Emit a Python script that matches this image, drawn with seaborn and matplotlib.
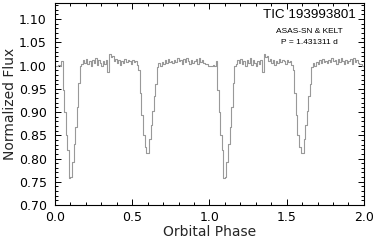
import numpy as np
import pandas as pd
import seaborn as sns
import matplotlib
matplotlib.use("Agg")
import matplotlib.pyplot as plt
from matplotlib.ticker import MultipleLocator, FormatStrFormatter

# Phase-folded, binned light curve (bin width 0.01 in phase), one cycle
bin_start = [round(0.01 * i, 2) for i in range(100)]
flux = [
    1.000, 1.000, 1.002, 1.000, 1.010, 0.948, 0.900, 0.850, 0.818, 0.758,
    0.760, 0.792, 0.832, 0.868, 0.910, 0.962, 1.000, 1.003, 1.012, 1.006,
    1.014, 1.004, 1.010, 1.000, 1.012, 1.005, 1.016, 1.002, 1.013, 1.006,
    1.000, 1.010, 1.004, 1.012, 0.986, 1.026, 1.018, 1.020, 1.010, 1.014,
    1.006, 1.012, 1.002, 1.010, 1.005, 1.014, 1.008, 1.012, 1.010, 1.004,
    1.012, 1.008, 1.010, 1.002, 0.990, 0.940, 0.893, 0.850, 0.825, 0.812,
    0.812, 0.842, 0.872, 0.902, 0.935, 0.960, 0.998, 1.005, 1.000, 1.008,
    1.004, 1.012, 1.006, 1.014, 1.008, 1.010, 1.006, 1.013, 1.008, 1.016,
    1.010, 1.012, 1.004, 1.014, 1.008, 1.016, 1.010, 1.004, 1.012, 1.006,
    1.010, 1.014, 1.004, 1.016, 1.008, 1.012, 1.006, 1.003, 1.004, 1.000,
]
title_text = "TIC 193993801"
source_text = "ASAS-SN & KELT"
period_text = "P = 1.431311 d"

# Plot two cycles (phase 0-2), closing the last step at phase 2.0
phase = list(bin_start) + [p + 1 for p in bin_start] + [2.0]
values = list(flux) + list(flux) + [flux[-1]]
df = pd.DataFrame({"phase": phase, "flux": values})

sns.set_style("ticks")
plt.rcParams["font.family"] = ["DejaVu Sans"]

fig = plt.figure(figsize=(3.74, 2.40), dpi=100)
ax = fig.add_axes([0.147, 0.146, 0.826, 0.842])

sns.lineplot(data=df, x="phase", y="flux", ax=ax, estimator=None, sort=False,
             drawstyle="steps-post", color="#999999", linewidth=0.8)

ax.set_xlim(0.0, 2.0)
ax.set_ylim(0.70, 1.135)
ax.xaxis.set_major_locator(MultipleLocator(0.5))
ax.xaxis.set_minor_locator(MultipleLocator(0.1))
ax.yaxis.set_major_locator(MultipleLocator(0.05))
ax.yaxis.set_minor_locator(MultipleLocator(0.01))
ax.xaxis.set_major_formatter(FormatStrFormatter("%.1f"))
ax.yaxis.set_major_formatter(FormatStrFormatter("%.2f"))
ax.tick_params(which="both", direction="in", top=True, right=True,
               width=0.7, colors="black", labelsize=9)
ax.tick_params(axis="x", which="major", pad=4)
ax.tick_params(axis="y", which="major", pad=6)
ax.tick_params(which="major", length=4)
ax.tick_params(which="minor", length=2)
for s in ax.spines.values():
    s.set_visible(True)
    s.set_linewidth(0.8)
    s.set_color("black")

ax.set_xlabel("Orbital Phase", fontsize=10, labelpad=1)
ax.set_ylabel("Normalized Flux", fontsize=10, labelpad=1)

fam = ["Liberation Sans"]
ax.text(0.825, 0.94, title_text, transform=ax.transAxes, ha="center",
        va="center", fontsize=9.6, family=fam, color="black")
ax.text(0.825, 0.858, source_text, transform=ax.transAxes, ha="center",
        va="center", fontsize=6, family=fam, color="black")
ax.text(0.825, 0.803, period_text, transform=ax.transAxes, ha="center",
        va="center", fontsize=6, family=fam, color="black")

fig.savefig("out.png", dpi=100)
